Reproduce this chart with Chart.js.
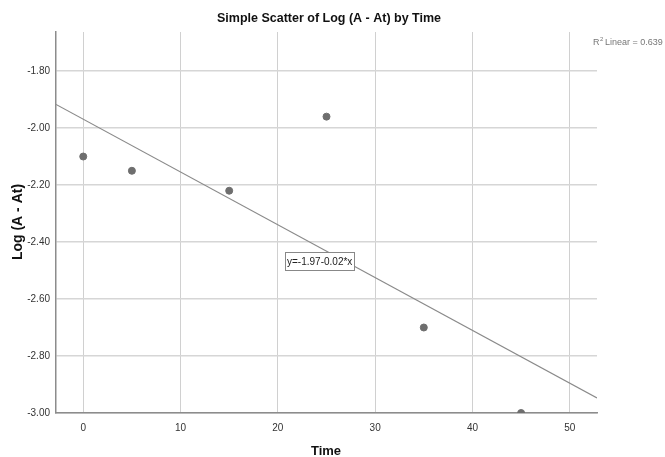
<!DOCTYPE html>
<html>
<head>
<meta charset="utf-8">
<script src="https://cdn.jsdelivr.net/npm/chart.js@4"></script>
<style>
  html, body { margin: 0; padding: 0; background: #fff; }
  #wrap { width: 665px; height: 457px; }
</style>
</head>
<body>
<div id="wrap"><canvas id="scatterChart" width="665" height="457"></canvas></div>
<script>
// data
const timeValues = [0, 5, 15, 25, 35, 45];
const logValues = [-2.10, -2.15, -2.22, -1.96, -2.70, -3.00];
const xTicks = [0, 10, 20, 30, 40, 50];
const yTicks = [-3.0, -2.8, -2.6, -2.4, -2.2, -2.0, -1.8];
const xMin = -2.8, xMax = 52.8;
const yMin = -3.0, yMax = -1.663;

const titleText = "Simple Scatter of Log (A - At) by Time";
const xTitle = "Time";
const yTitle = "Log (A - At)";
const fitLabel = "y=-1.97-0.02*x";
const rSqText = "Linear = 0.639";

// least squares fit line
function linearFit(xs, ys) {
    let n = xs.length;
    let mx = xs.reduce((a, b) => a + b, 0) / n;
    let my = ys.reduce((a, b) => a + b, 0) / n;
    let sxy = 0, sxx = 0;
    for (let i = 0; i < n; i++) {
        sxy += (xs[i] - mx) * (ys[i] - my);
        sxx += (xs[i] - mx) * (xs[i] - mx);
    }
    let slope = sxy / sxx;
    return { slope: slope, intercept: my - slope * mx };
}
const fit = linearFit(timeValues, logValues);

const points = timeValues.map((t, i) => ({ x: t, y: logValues[i] }));
const fitLine = [xMin, xMax].map(t => ({ x: t, y: fit.intercept + fit.slope * t }));

const FONT = "'Liberation Sans', Arial, sans-serif";

const textPlugin = {
    id: 'spssText',
    afterDraw(chart) {
        const ctx = chart.ctx;
        const xs = chart.scales.x, ys = chart.scales.y;
        ctx.save();
        ctx.fillStyle = '#111';
        ctx.textAlign = 'center';
        ctx.textBaseline = 'middle';
        ctx.font = 'bold 12.5px ' + FONT;
        ctx.fillText(titleText, 329, 19);
        ctx.font = 'bold 13px ' + FONT;
        ctx.fillText(xTitle, 326, 451);
        ctx.save();
        ctx.translate(18, 222);
        ctx.rotate(-Math.PI / 2);
        ctx.font = 'bold 14px ' + FONT;
        ctx.fillText(yTitle, 0, 0);
        ctx.restore();

        // R squared note
        ctx.fillStyle = '#777';
        ctx.textAlign = 'left';
        ctx.font = '9px ' + FONT;
        ctx.fillText('R', 593, 43);
        ctx.font = '6px ' + FONT;
        ctx.fillText('2', 600, 39);
        ctx.font = '9px ' + FONT;
        ctx.fillText(rSqText, 605, 43);

        // equation label box
        let lx = xs.getPixelForValue(24.3);
        let ly = ys.getPixelForValue(-2.467);
        ctx.font = '10px ' + FONT;
        let w = ctx.measureText(fitLabel).width + 4;
        ctx.fillStyle = '#fff';
        ctx.fillRect(lx - w / 2, ly - 9, w, 18);
        ctx.strokeStyle = '#888';
        ctx.lineWidth = 1;
        ctx.strokeRect(Math.round(lx - w / 2) + 0.5, Math.round(ly - 9) + 0.5, Math.round(w), 18);
        ctx.fillStyle = '#222';
        ctx.textAlign = 'center';
        ctx.fillText(fitLabel, lx, ly + 1);
        ctx.restore();
    }
};

new Chart(document.getElementById('scatterChart').getContext('2d'), {
    type: 'scatter',
    data: {
        datasets: [{
            label: 'Observed',
            data: points,
            backgroundColor: '#6e6e6e',
            borderColor: '#6e6e6e',
            pointRadius: 3.5,
            pointHoverRadius: 3.5,
            order: 1
        }, {
            label: 'Linear',
            type: 'line',
            data: fitLine,
            borderColor: '#8a8a8a',
            borderWidth: 1.2,
            pointRadius: 0,
            fill: false,
            order: 2
        }]
    },
    options: {
        responsive: false,
        animation: false,
        devicePixelRatio: 1,
        layout: { padding: { left: 0, right: 68, top: 32, bottom: 0 } },
        plugins: {
            legend: { display: false },
            tooltip: { enabled: false },
            title: { display: false }
        },
        scales: {
            x: {
                type: 'linear',
                min: xMin,
                max: xMax,
                afterBuildTicks: s => { s.ticks = xTicks.map(v => ({ value: v })); },
                afterFit: s => { s.height = 44; },
                grid: { color: '#d0d0d0', drawTicks: false, lineWidth: 1 },
                border: { color: '#8c8c8c', width: 1.5 },
                ticks: {
                    color: '#333',
                    padding: 9,
                    font: { family: FONT, size: 10 },
                    callback: v => String(v)
                }
            },
            y: {
                type: 'linear',
                min: yMin,
                max: yMax,
                afterBuildTicks: s => { s.ticks = yTicks.map(v => ({ value: v })); },
                afterFit: s => { s.width = 56; },
                grid: { color: '#d6d6d6', drawTicks: false, lineWidth: 1.5 },
                border: { color: '#8c8c8c', width: 1.5 },
                ticks: {
                    color: '#333',
                    padding: 6,
                    font: { family: FONT, size: 10 },
                    callback: v => v.toFixed(2)
                }
            }
        }
    },
    plugins: [textPlugin]
});
</script>
</body>
</html>
